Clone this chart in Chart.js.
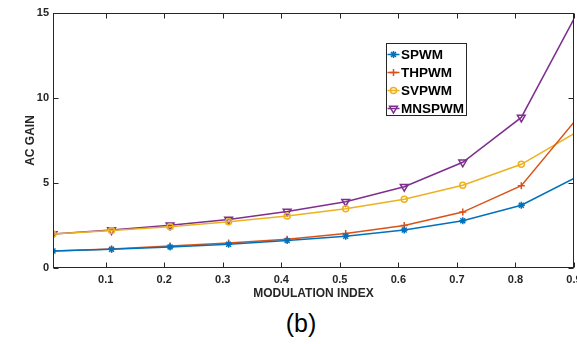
<!DOCTYPE html>
<html>
<head>
<meta charset="utf-8">
<script src="https://cdn.jsdelivr.net/npm/chart.js"></script>
<style>
  body { margin: 0; background: #fff; overflow: hidden; width: 577px; height: 344px; position: relative; }
  #wrap { position: absolute; left: 0; top: 0; width: 577px; height: 305px; }
  #cap { position: absolute; left: 261px; width: 80px; top: 311px; text-align: center;
         font: 25px "Liberation Sans", Arial, sans-serif; line-height: 1; color: #000; }
</style>
</head>
<body>
<div id="wrap"><canvas id="gainChart" width="577" height="305"></canvas></div>
<div id="cap">(b)</div>
<script>
// modulation index (last point lies just past the axis end and is clipped)
var modIndex = [0.01, 0.11, 0.21, 0.31, 0.41, 0.51, 0.61, 0.71, 0.81, 0.91];
var spwm   = [1.0, 1.1, 1.24, 1.4, 1.62, 1.87, 2.23, 2.78, 3.69, 5.45];
var thpwm  = [1.0, 1.12, 1.3, 1.47, 1.69, 2.03, 2.5, 3.29, 4.84, 9.0];
var svpwm  = [2.0, 2.2, 2.42, 2.72, 3.06, 3.48, 4.05, 4.87, 6.1, 8.1];
var mnspwm = [2.0, 2.23, 2.52, 2.86, 3.32, 3.9, 4.78, 6.22, 8.86, 15.3];
var xTicks = [0.1, 0.2, 0.3, 0.4, 0.5, 0.6, 0.7, 0.8, 0.9];
var yTicks = [0, 5, 10, 15];

var FONT = '"Liberation Sans", Arial, Helvetica, sans-serif';
var axisCol = '#262626';

function pts(ys) {
  return ys.map(function (y, i) { return { x: modIndex[i], y: y }; });
}

function series(label, ys, color, style, rot, r) {
  return {
    label: label,
    data: pts(ys),
    borderColor: color,
    backgroundColor: color,
    borderWidth: 1.5,
    pointStyle: style,
    pointRotation: rot,
    pointRadius: r,
    pointBorderWidth: 1.5,
    pointBackgroundColor: 'rgba(0,0,0,0)',
    pointBorderColor: color,
    tension: 0
  };
}

// box round the plot with inward ticks on all four sides
var frame = {
  id: 'frame',
  afterDatasetsDraw: function (chart) {
    var ctx = chart.ctx, a = chart.chartArea;
    var L = Math.round(a.left) + 0.5, R = Math.round(a.right) - 0.5;
    var T = Math.round(a.top) + 0.5, B = Math.round(a.bottom) - 0.5;
    ctx.save();
    ctx.strokeStyle = axisCol;
    ctx.lineWidth = 1;
    ctx.strokeRect(L, T, R - L, B - T);
    ctx.beginPath();
    chart.scales.x.ticks.forEach(function (t) {
      var px = Math.round(chart.scales.x.getPixelForValue(t.value)) + 0.5;
      ctx.moveTo(px, B); ctx.lineTo(px, B - 5);
      ctx.moveTo(px, T); ctx.lineTo(px, T + 5);
    });
    chart.scales.y.ticks.forEach(function (t) {
      var py = Math.round(chart.scales.y.getPixelForValue(t.value)) + 0.5;
      ctx.moveTo(L, py); ctx.lineTo(L + 5, py);
      ctx.moveTo(R, py); ctx.lineTo(R - 5, py);
    });
    ctx.stroke();
    ctx.restore();
  }
};

// matlab style legend box
var boxLegend = {
  id: 'boxLegend',
  afterDraw: function (chart) {
    var ctx = chart.ctx;
    var bx = 386.5, by = 43.5, bw = 80, bh = 72, step = 18;
    ctx.save();
    ctx.fillStyle = '#fff';
    ctx.fillRect(bx, by, bw, bh);
    ctx.strokeStyle = axisCol;
    ctx.lineWidth = 1;
    ctx.strokeRect(bx, by, bw, bh);
    ctx.font = 'bold 13.5px ' + FONT;
    ctx.textBaseline = 'middle';
    chart.data.datasets.forEach(function (ds, i) {
      var cy = by + 11 + i * step;
      ctx.strokeStyle = ds.borderColor;
      ctx.lineWidth = ds.borderWidth;
      ctx.beginPath();
      ctx.moveTo(bx + 1, cy); ctx.lineTo(bx + 13, cy);
      ctx.stroke();
      ctx.lineWidth = ds.pointBorderWidth;
      ctx.fillStyle = 'rgba(0,0,0,0)';
      Chart.helpers.drawPoint(ctx, {
        pointStyle: ds.pointStyle, rotation: ds.pointRotation,
        radius: ds.pointRadius, borderWidth: ds.pointBorderWidth
      }, bx + 7, cy);
      ctx.fillStyle = '#000';
      ctx.fillText(ds.label, bx + 14.5, cy + 0.5);
    });
    ctx.restore();
  }
};

new Chart(document.getElementById('gainChart').getContext('2d'), {
  type: 'line',
  data: {
    datasets: [
      series('SPWM', spwm, '#0072BD', 'star', 0, 3.5),
      series('THPWM', thpwm, '#D95319', 'cross', 0, 3.5),
      series('SVPWM', svpwm, '#EDB120', 'circle', 0, 3),
      series('MNSPWM', mnspwm, '#7E2F8E', 'triangle', 180, 4.5)
    ]
  },
  options: {
    responsive: false,
    animation: false,
    layout: { autoPadding: false, padding: { top: 13, right: 3, left: 0, bottom: 0 } },
    plugins: { legend: { display: false }, tooltip: { enabled: false } },
    scales: {
      x: {
        type: 'linear',
        min: 0.01,
        max: 0.9,
        grid: { display: false, drawTicks: false },
        border: { display: false },
        afterBuildTicks: function (s) { s.ticks = xTicks.map(function (v) { return { value: v }; }); },
        afterFit: function (s) { s.height = 37; s.paddingLeft = 0; s.paddingRight = 0; },
        ticks: {
          color: axisCol, padding: 5, maxRotation: 0, autoSkip: false,
          font: { family: FONT, size: 11, weight: 'bold' },
          callback: function (v) { return v.toFixed(1); }
        },
        title: {
          display: true, text: 'MODULATION INDEX', color: axisCol,
          padding: { top: 0, bottom: 4 },
          font: { family: FONT, size: 12, weight: 'bold' }
        }
      },
      y: {
        min: 0,
        max: 15,
        grid: { display: false, drawTicks: false },
        border: { display: false },
        afterBuildTicks: function (s) { s.ticks = yTicks.map(function (v) { return { value: v }; }); },
        afterFit: function (s) { s.width = 53; },
        ticks: {
          color: axisCol, padding: 4,
          font: { family: FONT, size: 11, weight: 'bold' }
        },
        title: {
          display: true, text: 'AC GAIN', color: axisCol,
          padding: { top: 23, bottom: 0 },
          font: { family: FONT, size: 12, weight: 'bold' }
        }
      }
    }
  },
  plugins: [frame, boxLegend]
});
</script>
</body>
</html>
